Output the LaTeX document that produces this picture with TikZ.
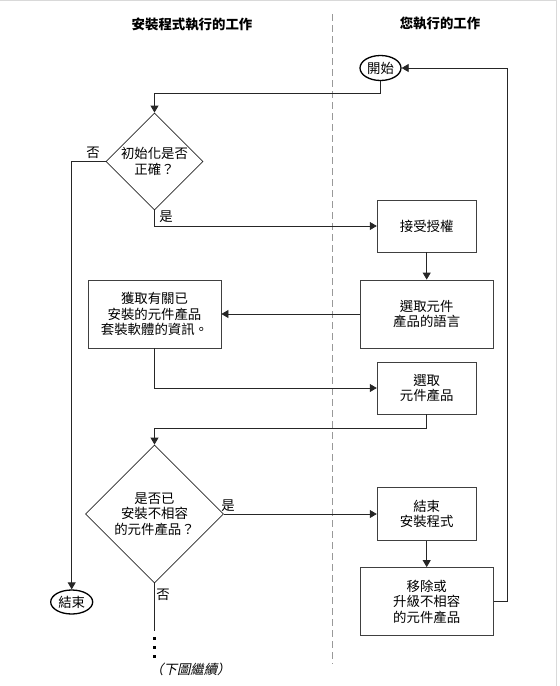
\documentclass[tikz,border=0pt]{standalone}
\usepackage{fontspec}
\newfontfamily\cjk{Noto Sans CJK TC}
\newfontfamily\cjkit[FakeSlant=0.22]{Noto Sans CJK TC}
\usetikzlibrary{shapes.geometric,arrows.meta}
\tikzset{
  body/.style={font=\cjk\fontsize{13.4}{15.5}\selectfont},
  head/.style={font=\cjk\bfseries\fontsize{13.4}{15.5}\selectfont},
  stepbox/.style={body, draw=black!75, line width=0.8pt, rectangle, inner sep=0pt, align=center},
  decision/.style={body, draw=black!85, line width=0.8pt, diamond, aspect=1, inner sep=0pt, align=center},
  term/.style={body, draw=black, line width=1.3pt, ellipse, inner sep=0pt},
  conn/.style={draw=black!85, line width=0.8pt},
  arr/.style={conn, -{Triangle[width=8pt,length=7pt]}},
  lbl/.style={body, inner sep=0pt},
}
\begin{document}
\begin{tikzpicture}[x=1pt,y=-1pt]
\useasboundingbox (0,0) rectangle (560,686);
% frame
\draw[black!15, line width=1pt] (0,0.5) -- (556.5,0.5) -- (556.5,686);
% lane divider
\draw[black!40, line width=0.8pt, dash pattern=on 7pt off 4pt] (332.5,14) -- (332.5,664);
% headers
\node[head] (h1) at (192,24) {安裝程式執行的工作};
\node[head] (h2) at (440,24) {您執行的工作};
% nodes
\node[term, minimum width=41pt, minimum height=25pt] (start) at (380.5,68) {開始};
\node[decision, minimum width=97pt, minimum height=97pt] (d1) at (154.5,161.5) {初始化是否\\正確？};
\node[term, minimum width=42pt, minimum height=24pt] (endn) at (71.7,602) {結束};
\node[stepbox, minimum width=99pt, minimum height=52pt] (accept) at (426.7,226) {接受授權};
\node[stepbox, minimum width=133pt, minimum height=68pt] (lang) at (426.7,314) {選取元件\\產品的語言};
\node[stepbox, minimum width=133pt, minimum height=68pt] (info) at (154.5,314) {獲取有關已\\安裝的元件產品\\套裝軟體的資訊。};
\node[stepbox, minimum width=99pt, minimum height=52pt] (selprod) at (426.7,388) {選取\\元件產品};
\node[decision, minimum width=138pt, minimum height=138pt] (d2) at (154.5,514) {是否已\\安裝不相容\\的元件產品？};
\node[stepbox, minimum width=99pt, minimum height=53pt] (quit) at (426.7,514) {結束\\安裝程式};
\node[stepbox, minimum width=133pt, minimum height=68pt] (remove) at (426.7,601.5) {移除或\\升級不相容\\的元件產品};
% helper coordinates
\coordinate (j1) at (0,93.3);
\coordinate (j2) at (0,428.5);
\coordinate (loopc) at (507,68);
\coordinate (cont) at (154.5,630.7);
% connectors
\draw[arr] (start.south) -- (start.south |- j1) -- (d1.north |- j1) -- (d1.north);
\draw[arr] (d1.west) -| (endn.north);
\draw[arr] (d1.south) |- (accept.west);
\draw[arr] (accept.south) -- (lang.north);
\draw[arr] (lang.west) -- (info.east);
\draw[arr] (info.south) |- (selprod.west);
\draw[arr] (selprod.south) -- (selprod.south |- j2) -- (d2.north |- j2) -- (d2.north);
\draw[arr] (d2.east) -- (quit.west);
\draw[arr] (quit.south) -- (remove.north);
\draw[arr] (remove.east) -| (loopc) -- (start.east);
\draw[conn] (d2.south) -- (cont);
% continuation dots
\foreach \yy in {638.3,647.7,656.7} \fill[black] (153.2,\yy-1.3) rectangle (155.8,\yy+1.3);
\node[font=\cjkit\fontsize{13.4}{15.5}\selectfont, anchor=west, inner sep=0pt] (next) at (150,669) {（下圖繼續）};
% branch labels
\node[lbl] (no1) at (93,153) {否};
\node[lbl] (yes1) at (166,217) {是};
\node[lbl] (yes2) at (228,506) {是};
\node[lbl] (no2) at (163,595) {否};
\end{tikzpicture}
\end{document}
